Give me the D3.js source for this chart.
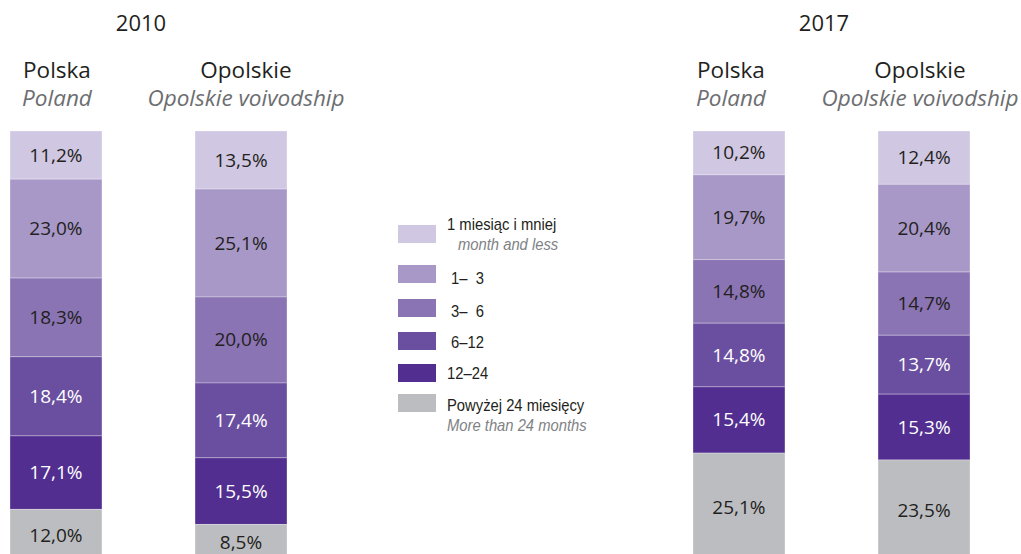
<!DOCTYPE html>
<html>
<head>
<meta charset="utf-8">
<script src="https://cdn.jsdelivr.net/npm/d3@7"></script>
<style>
  body { margin: 0; background: #fff; }
  .title { font-family: "Open Sans", sans-serif; fill: #231f20; }
  .sub { font-family: "Open Sans", sans-serif; font-style: italic; fill: #6d6e71; }
  .pct { font-family: "Open Sans", sans-serif; font-size: 19px; }
  .leg { font-family: "Liberation Sans", Arial, sans-serif; font-size: 17px; fill: #231f20; }
  .leg-en { font-style: italic; fill: #808285; }
</style>
</head>
<body>
<div id="chart"></div>
<script>
const width = 1021, height = 554;

// dane
const years = ["2010", "2017"];
const regionsPl = ["Polska", "Opolskie"];
const regionsEn = ["Poland", "Opolskie voivodship"];
const categoriesPl = ["1 miesiąc i mniej", "\u20081–\u20073", "\u20083–\u20076", "\u20086–12", "12–24", "Powyżej 24 miesięcy"];
const categoriesEn = ["month and less", "", "", "", "", "More than 24 months"];
const polska2010 = [11.2, 23.0, 18.3, 18.4, 17.1, 12.0];
const opolskie2010 = [13.5, 25.1, 20.0, 17.4, 15.5, 8.5];
const polska2017 = [10.2, 19.7, 14.8, 14.8, 15.4, 25.1];
const opolskie2017 = [12.4, 20.4, 14.7, 13.7, 15.3, 23.5];

const colors = ["#d0c7e2", "#a898c8", "#8a74b4", "#6a4fa0", "#512e8f", "#bcbdc0"];
const labelColors = ["#231f20", "#231f20", "#231f20", "#ffffff", "#ffffff", "#231f20"];

const series = [
  { year: "2010", region: "Polska", values: polska2010 },
  { year: "2010", region: "Opolskie", values: opolskie2010 },
  { year: "2017", region: "Polska", values: polska2017 },
  { year: "2017", region: "Opolskie", values: opolskie2017 }
];

const svg = d3.select("#chart").append("svg")
    .attr("width", width)
    .attr("height", height);

// skale
const x0 = d3.scalePoint().domain(years).range([10, 693]);
const x1 = d3.scaleBand().domain(regionsPl).range([0, 277]).paddingInner(0.503);
const y = d3.scaleLinear().domain([0, 100]).range([131, 561]);

function barX(d) { return x0(d.year) + x1(d.region); }

// tytuly
svg.selectAll(".year")
  .data(years)
  .join("text")
    .attr("class", "title")
    .attr("x", d => x0(d) + 131)
    .attr("y", 31)
    .attr("text-anchor", "middle")
    .style("font-size", "22px")
    .text(d => d);

// przesuniecie naglowkow wzgledem srodka slupka
const headShift = { "2010": [1, 5], "2017": [-8, -4] };

const heads = [];
years.forEach(yr => regionsPl.forEach((r, i) => heads.push({ year: yr, region: r, en: regionsEn[i], k: i })));

function headX(d) { return barX(d) + x1.bandwidth() / 2 + headShift[d.year][d.k]; }

svg.selectAll(".head")
  .data(heads)
  .join("text")
    .attr("class", "title")
    .attr("x", headX)
    .attr("y", 78)
    .attr("text-anchor", "middle")
    .style("font-size", "22.5px")
    .text(d => d.region);

svg.selectAll(".headEn")
  .data(heads)
  .join("text")
    .attr("class", "sub")
    .attr("x", headX)
    .attr("y", 106)
    .attr("text-anchor", "middle")
    .style("font-size", "22.5px")
    .text(d => d.en);

// slupki
const bars = svg.selectAll(".bar")
  .data(series)
  .join("g")
    .attr("class", "bar")
    .attr("transform", d => "translate(" + barX(d) + ",0)");

bars.each(function(s) {
  let acc = 0;
  const segs = s.values.map((v, i) => {
    const seg = { v: v, i: i, y0: acc, y1: acc + v };
    acc += v;
    return seg;
  });
  const g = d3.select(this);
  g.selectAll("rect")
    .data(segs)
    .join("rect")
      .attr("x", 0)
      .attr("width", x1.bandwidth())
      .attr("y", d => y(d.y0))
      .attr("height", d => y(d.y1) - y(d.y0))
      .attr("fill", d => colors[d.i])
      .attr("stroke", "#ffffff")
      .attr("stroke-opacity", 0.3)
      .attr("stroke-width", 1);
  g.selectAll("text")
    .data(segs)
    .join("text")
      .attr("class", "pct")
      .attr("x", x1.bandwidth() / 2)
      .attr("y", d => (y(d.y0) + y(d.y1)) / 2 + 6.5)
      .attr("text-anchor", "middle")
      .attr("fill", d => labelColors[d.i])
      .text(d => d.v.toFixed(1).replace(".", ",") + "%");
});

// legenda
const legTop = [225, 265, 299, 332, 364, 394];
const legBase = [230, 284, 317, 348, 379, 411];
const narrow = 0.87;

const leg = svg.append("g");
leg.selectAll("rect")
  .data(categoriesPl)
  .join("rect")
    .attr("x", 398)
    .attr("y", (d, i) => legTop[i])
    .attr("width", 38)
    .attr("height", 18)
    .attr("fill", (d, i) => colors[i]);

leg.selectAll("text.pl")
  .data(categoriesPl)
  .join("text")
    .attr("class", "leg pl")
    .attr("transform", (d, i) => "translate(447," + legBase[i] + ") scale(" + narrow + ",1)")
    .text(d => d);

leg.selectAll("text.en")
  .data(categoriesEn)
  .join("text")
    .attr("class", "leg leg-en en")
    .attr("transform", (d, i) => "translate(" + (i === 0 ? 458 : 447) + "," + (legBase[i] + 20) + ") scale(" + narrow + ",1)")
    .text(d => d);
</script>
</body>
</html>
